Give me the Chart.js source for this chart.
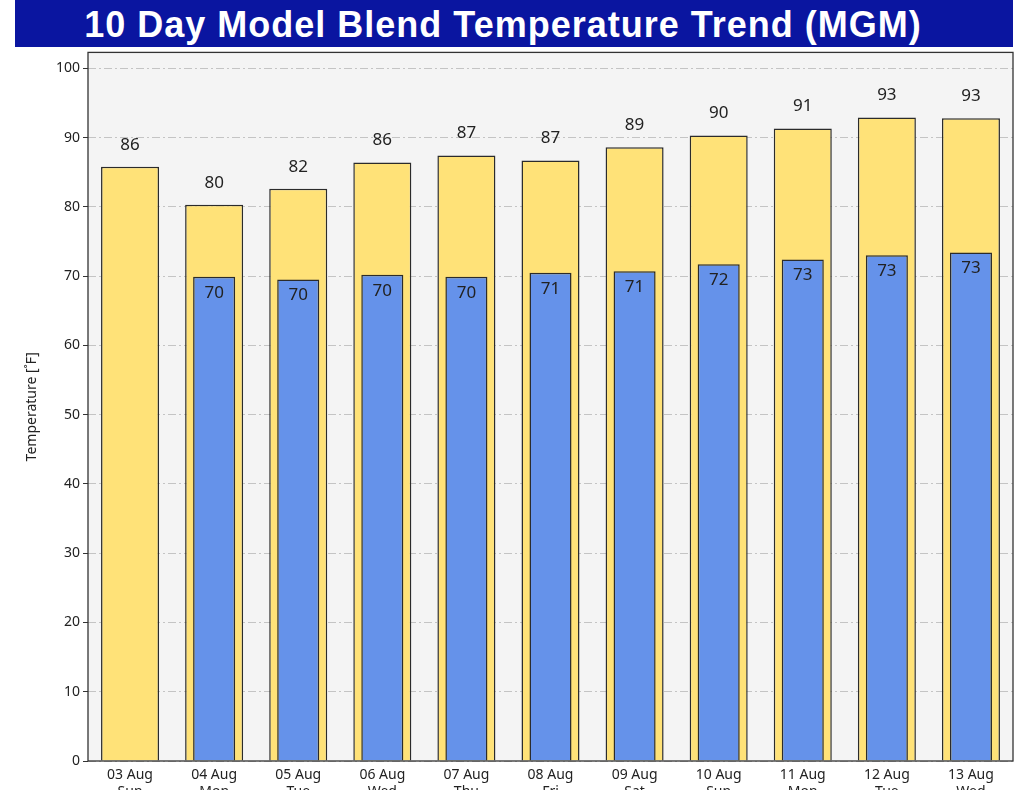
<!DOCTYPE html>
<html lang="en">
<head>
  <meta charset="UTF-8" />
  <title>10 Day Model Blend Temperature Trend (MGM)</title>
  <style>
    body {
      margin: 0;
      width: 1024px;
      height: 790px;
      overflow: hidden;
      background: #fff;
      position: relative;
      font-family: 'Noto Sans', sans-serif;
    }
    .banner {
      position: absolute;
      left: 15px;
      top: 0;
      width: 998px;
      height: 47px;
      background: #0a15a0;
      color: #fff;
      font-family: 'Liberation Sans', Arial, sans-serif;
      font-weight: bold;
      font-size: 36px;
      letter-spacing: 1px;
      line-height: 50px;
      text-align: center;
      padding-right: 22px;
      box-sizing: border-box;
      white-space: nowrap;
      z-index: 2;
    }
    .wrap {
      position: absolute;
      left: 0;
      top: 41px;
      width: 1024px;
      height: 769px;
    }
  </style>
</head>
<body>
  <div class="banner">10 Day Model Blend Temperature Trend (MGM)</div>
  <div class="wrap"><canvas id="tempChart"></canvas></div>

  <script src="https://cdn.jsdelivr.net/npm/chart.js"></script>
  <script>
    const dates = ["03 Aug", "04 Aug", "05 Aug", "06 Aug", "07 Aug", "08 Aug", "09 Aug", "10 Aug", "11 Aug", "12 Aug", "13 Aug"];
    const weekdays = ["Sun", "Mon", "Tue", "Wed", "Thu", "Fri", "Sat", "Sun", "Mon", "Tue", "Wed"];
    const highs = [85.8, 80.3, 82.6, 86.4, 87.4, 86.7, 88.6, 90.3, 91.3, 92.9, 92.8];
    const lows = [null, 69.9, 69.5, 70.2, 69.9, 70.5, 70.7, 71.7, 72.4, 73.0, 73.4];
    // printed values (as shown on the chart)
    const highLabels = [86, 80, 82, 86, 87, 87, 89, 90, 91, 93, 93];
    const lowLabels = [null, 70, 70, 70, 70, 71, 71, 72, 73, 73, 73];
    const yTicks = [0, 10, 20, 30, 40, 50, 60, 70, 80, 90, 100];

    // labels above the highs, inside the top of the lows
    const valueLabels = {
      id: 'valueLabels',
      afterDatasetsDraw(chart) {
        const ctx = chart.ctx;
        ctx.save();
        ctx.font = '17px "Noto Sans"';
        ctx.fillStyle = '#222';
        ctx.textAlign = 'center';
        ctx.textBaseline = 'middle';
        chart.getDatasetMeta(0).data.forEach((bar, i) => {
          ctx.fillText(highLabels[i], bar.x, bar.y - 22);
        });
        chart.getDatasetMeta(1).data.forEach((bar, i) => {
          if (lowLabels[i] == null) return;
          ctx.fillText(lowLabels[i], bar.x, bar.y + 16);
        });
        ctx.restore();
      }
    };

    // plot background + full frame
    const frame = {
      id: 'frame',
      beforeDraw(chart) {
        const a = chart.chartArea;
        chart.ctx.save();
        chart.ctx.fillStyle = '#f4f4f4';
        chart.ctx.fillRect(a.left, a.top, a.right - a.left, a.bottom - a.top);
        chart.ctx.restore();
      },
      afterDraw(chart) {
        const a = chart.chartArea;
        const ctx = chart.ctx;
        ctx.save();
        ctx.strokeStyle = '#333';
        ctx.lineWidth = 1.3;
        ctx.strokeRect(a.left, a.top, a.right - a.left, a.bottom - a.top);
        ctx.restore();
      }
    };

    new Chart(document.getElementById('tempChart'), {
      type: 'bar',
      data: {
        labels: dates.map((d, i) => [d, weekdays[i]]),
        datasets: [{
          label: 'High',
          data: highs,
          backgroundColor: '#ffe278',
          borderColor: '#2b2b2b',
          borderWidth: 1.5,
          barPercentage: 0.69,
          categoryPercentage: 1,
          grouped: false,
          order: 2
        }, {
          label: 'Low',
          data: lows,
          backgroundColor: '#6592ea',
          borderColor: '#2b2b2b',
          borderWidth: 1.5,
          barPercentage: 0.5,
          categoryPercentage: 1,
          grouped: false,
          order: 1
        }]
      },
      options: {
        responsive: true,
        maintainAspectRatio: false,
        animation: false,
        layout: { padding: { left: 0, right: 11, top: 0, bottom: 0 } },
        plugins: {
          legend: { display: false },
          tooltip: { enabled: false }
        },
        scales: {
          x: {
            grid: { display: false, tickLength: 4 },
            border: { display: false },
            ticks: { color: '#222', font: { family: 'Noto Sans', size: 14 }, padding: 2, maxRotation: 0 },
            afterFit(scale) { scale.height = 49; }
          },
          y: {
            min: 0,
            max: 102.3,
            afterBuildTicks(scale) { scale.ticks = yTicks.map(v => ({ value: v })); },
            afterFit(scale) { scale.width = 88; },
            border: { display: false, dash: [8, 3, 2, 3] },
            grid: {
              color: '#c4c4c4',
              tickColor: '#333',
              tickLength: 5,
              tickBorderDash: [],
              lineWidth: 1
            },
            ticks: { color: '#222', font: { family: 'Noto Sans', size: 14 }, padding: 3 },
            title: {
              display: true,
              text: 'Temperature [˚F]',
              color: '#222',
              font: { family: 'Noto Sans', size: 14 },
              padding: { top: 24, bottom: 0 }
            }
          }
        }
      },
      plugins: [frame, valueLabels]
    });
  </script>
</body>
</html>
